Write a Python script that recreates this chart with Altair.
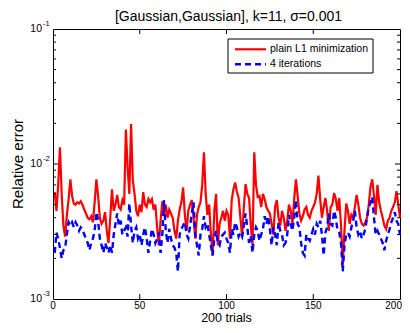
import altair as alt
import pandas as pd

# ---------------- data ----------------
trials = list(range(1, 201))

plain_l1 = [
    0.0062, 0.0045, 0.0070, 0.0133, 0.0060, 0.0035, 0.0029, 0.0042, 0.0055, 0.0077,
    0.0058, 0.0051, 0.0050, 0.0052, 0.0051, 0.0053, 0.0050, 0.0046, 0.0043, 0.0040,
    0.0039, 0.0041, 0.0037, 0.0052, 0.0077, 0.0058, 0.0040, 0.0036, 0.0038, 0.0044,
    0.0032, 0.0026, 0.0040, 0.0065, 0.0045, 0.0050, 0.0059, 0.0048, 0.0046, 0.0054,
    0.0050, 0.0180, 0.0094, 0.0060, 0.0198, 0.0075, 0.0060, 0.0045, 0.0041, 0.0050,
    0.0044, 0.0062, 0.0050, 0.0048, 0.0055, 0.0052, 0.0055, 0.0046, 0.0050, 0.0034,
    0.0025, 0.0038, 0.0053, 0.0042, 0.0050, 0.0040, 0.0046, 0.0043, 0.0040, 0.0032,
    0.0028, 0.0038, 0.0046, 0.0052, 0.0067, 0.0042, 0.0032, 0.0045, 0.0050, 0.0054,
    0.0040, 0.0028, 0.0042, 0.0048, 0.0052, 0.0070, 0.0122, 0.0060, 0.0042, 0.0050,
    0.0030, 0.0021, 0.0045, 0.0060, 0.0025, 0.0036, 0.0040, 0.0045, 0.0038, 0.0045,
    0.0042, 0.0028, 0.0054, 0.0065, 0.0073, 0.0062, 0.0056, 0.0040, 0.0029, 0.0048,
    0.0071, 0.0060, 0.0056, 0.0035, 0.0025, 0.0122, 0.0070, 0.0057, 0.0058, 0.0048,
    0.0060, 0.0055, 0.0048, 0.0045, 0.0043, 0.0036, 0.0030, 0.0048, 0.0054, 0.0040,
    0.0035, 0.0045, 0.0040, 0.0032, 0.0038, 0.0050, 0.0045, 0.0036, 0.0055, 0.0077,
    0.0058, 0.0043, 0.0038, 0.0041, 0.0046, 0.0048, 0.0042, 0.0040, 0.0045, 0.0048,
    0.0052, 0.0060, 0.0082, 0.0055, 0.0040, 0.0048, 0.0056, 0.0045, 0.0032, 0.0048,
    0.0050, 0.0061, 0.0055, 0.0045, 0.0056, 0.0035, 0.0018, 0.0032, 0.0051, 0.0045,
    0.0036, 0.0042, 0.0040, 0.0048, 0.0059, 0.0050, 0.0040, 0.0036, 0.0035, 0.0037,
    0.0040, 0.0050, 0.0068, 0.0077, 0.0058, 0.0042, 0.0070, 0.0052, 0.0045, 0.0040,
    0.0035, 0.0033, 0.0038, 0.0040, 0.0045, 0.0048, 0.0052, 0.0063, 0.0050, 0.0040,
]

iter4 = [
    0.0022, 0.0031, 0.0028, 0.0024, 0.0020, 0.0023, 0.0024, 0.0030, 0.0037, 0.0035,
    0.0037, 0.0034, 0.0037, 0.0035, 0.0032, 0.0034, 0.0033, 0.0030, 0.0028, 0.0026,
    0.0023, 0.0026, 0.0028, 0.0032, 0.0044, 0.0038, 0.0028, 0.0025, 0.0022, 0.0026,
    0.0024, 0.0022, 0.0025, 0.0022, 0.0030, 0.0036, 0.0043, 0.0035, 0.0038, 0.0030,
    0.0032, 0.0034, 0.0029, 0.0051, 0.0035, 0.0026, 0.0032, 0.0034, 0.0028, 0.0030,
    0.0025, 0.0030, 0.0034, 0.0028, 0.0022, 0.0027, 0.0033, 0.0030, 0.0026, 0.0028,
    0.0031, 0.0022, 0.0030, 0.0054, 0.0032, 0.0026, 0.0033, 0.0028, 0.0025, 0.0024,
    0.0022, 0.0016, 0.0030, 0.0033, 0.0035, 0.0037, 0.0030, 0.0028, 0.0035, 0.0043,
    0.0052, 0.0030, 0.0025, 0.0021, 0.0030, 0.0033, 0.0041, 0.0034, 0.0036, 0.0030,
    0.0025, 0.0021, 0.0028, 0.0032, 0.0026, 0.0025, 0.0029, 0.0030, 0.0031, 0.0028,
    0.0026, 0.0022, 0.0033, 0.0030, 0.0037, 0.0034, 0.0029, 0.0031, 0.0029, 0.0035,
    0.0043, 0.0034, 0.0026, 0.0029, 0.0022, 0.0030, 0.0034, 0.0032, 0.0027, 0.0030,
    0.0033, 0.0041, 0.0036, 0.0041, 0.0033, 0.0025, 0.0034, 0.0030, 0.0025, 0.0037,
    0.0032, 0.0030, 0.0025, 0.0026, 0.0030, 0.0042, 0.0036, 0.0032, 0.0040, 0.0054,
    0.0036, 0.0034, 0.0026, 0.0022, 0.0021, 0.0030, 0.0028, 0.0027, 0.0030, 0.0033,
    0.0030, 0.0036, 0.0034, 0.0038, 0.0030, 0.0021, 0.0031, 0.0034, 0.0043, 0.0036,
    0.0035, 0.0045, 0.0040, 0.0032, 0.0031, 0.0026, 0.0016, 0.0025, 0.0030, 0.0031,
    0.0029, 0.0034, 0.0038, 0.0045, 0.0034, 0.0030, 0.0032, 0.0028, 0.0030, 0.0033,
    0.0040, 0.0048, 0.0052, 0.0057, 0.0040, 0.0030, 0.0032, 0.0030, 0.0028, 0.0026,
    0.0023, 0.0027, 0.0030, 0.0033, 0.0037, 0.0040, 0.0044, 0.0038, 0.0036, 0.0030,
]

series_names = ["plain L1 minimization", "4 iterations"]
x_labels_main = [0, 50, 100, 150]
x_label_last = [200]
x_inner_ticks = [50, 100, 150]
y_major = [0.001, 0.01, 0.1]
y_major_inner = [0.01]
y_minor = [k * 10.0 ** e for e in (-3, -2) for k in range(2, 10)]
y_base = ["10", "10", "10"]
y_exp = ["-3", "-2", "-1"]

title_text = "[Gaussian,Gaussian], k=11, \u03c3=0.001"
x_title = "200 trials"
y_title = "Relative error"

# ---------------- chart ----------------
W, H = 347, 270
FONT = "Liberation Sans"

xs = alt.Scale(domain=[0, 200], nice=False, zero=False)
ys = alt.Scale(type="log", domain=[0.001, 0.1], nice=False)

df_red = pd.DataFrame({"trial": trials, "v": plain_l1})
df_blue = pd.DataFrame({"trial": trials, "v": iter4})

red = alt.Chart(df_red).mark_line(color="#ff0000", strokeWidth=2.2).encode(
    x=alt.X("trial:Q", scale=xs, axis=None),
    y=alt.Y("v:Q", scale=ys, axis=None),
)
blue = alt.Chart(df_blue).mark_line(color="#0000ff", strokeWidth=2.4,
                                    strokeDash=[6, 4]).encode(
    x=alt.X("trial:Q", scale=xs),
    y=alt.Y("v:Q", scale=ys),
)

# inward ticks (MATLAB style box)
xt = pd.DataFrame({"t": x_inner_ticks})
xtick_b = alt.Chart(xt).mark_rule(color="black", strokeWidth=1).encode(
    x=alt.X("t:Q", scale=xs), y=alt.value(H), y2=alt.value(H - 5))
xtick_t = alt.Chart(xt).mark_rule(color="black", strokeWidth=1).encode(
    x=alt.X("t:Q", scale=xs), y=alt.value(0), y2=alt.value(5))

ymaj = pd.DataFrame({"t": y_major_inner})
ymin = pd.DataFrame({"t": y_minor})
ytick_l = alt.Chart(ymaj).mark_rule(color="black", strokeWidth=1).encode(
    y=alt.Y("t:Q", scale=ys), x=alt.value(0), x2=alt.value(5))
ytick_r = alt.Chart(ymaj).mark_rule(color="black", strokeWidth=1).encode(
    y=alt.Y("t:Q", scale=ys), x=alt.value(W), x2=alt.value(W - 5))
yminor_l = alt.Chart(ymin).mark_rule(color="black", strokeWidth=1).encode(
    y=alt.Y("t:Q", scale=ys), x=alt.value(0), x2=alt.value(3))
yminor_r = alt.Chart(ymin).mark_rule(color="black", strokeWidth=1).encode(
    y=alt.Y("t:Q", scale=ys), x=alt.value(W), x2=alt.value(W - 3))

# x tick labels
xl_main = alt.Chart(pd.DataFrame({"t": x_labels_main})).mark_text(
    align="center", baseline="alphabetic", fontSize=10, font=FONT, color="black").encode(
    x=alt.X("t:Q", scale=xs), y=alt.value(H + 9.5), text="t:Q")
xl_last = alt.Chart(pd.DataFrame({"t": x_label_last})).mark_text(
    align="right", baseline="alphabetic", fontSize=10, font=FONT, color="black",
    dx=2).encode(
    x=alt.X("t:Q", scale=xs), y=alt.value(H + 9.5), text="t:Q")

# y tick labels 10^k
ylab = pd.DataFrame({"t": y_major, "base": y_base, "exp": y_exp})
ylab_base = alt.Chart(ylab).mark_text(align="right", baseline="middle",
                                      fontSize=10.5, font=FONT, color="black").encode(
    y=alt.Y("t:Q", scale=ys), x=alt.value(-11), text="base:N")
ylab_exp = alt.Chart(ylab).mark_text(align="left", baseline="middle", dy=-5,
                                     fontSize=7.5, font=FONT, color="black").encode(
    y=alt.Y("t:Q", scale=ys), x=alt.value(-10), text="exp:N")

# titles
title = alt.Chart(pd.DataFrame({"s": [title_text]})).mark_text(
    align="center", baseline="middle", fontSize=14, font=FONT, color="black").encode(
    x=alt.value(175.5), y=alt.value(-12.5), text="s:N")
xtitle = alt.Chart(pd.DataFrame({"s": [x_title]})).mark_text(
    align="center", baseline="alphabetic", fontSize=12.5, font=FONT,
    color="black").encode(
    x=alt.value(173.5), y=alt.value(293), text="s:N")
ytitle = alt.Chart(pd.DataFrame({"s": [y_title]})).mark_text(
    align="center", baseline="middle", fontSize=15, font=FONT, color="black",
    angle=270).encode(
    x=alt.value(-35), y=alt.value(135), text="s:N")

# legend
leg_box = alt.Chart(pd.DataFrame({"a": [0]})).mark_rect(
    fill="white", stroke="black", strokeWidth=1).encode(
    x=alt.value(175), x2=alt.value(320), y=alt.value(10), y2=alt.value(44))
leg_red = alt.Chart(pd.DataFrame({"a": [0]})).mark_rule(
    color="#ff0000", strokeWidth=2.2).encode(
    x=alt.value(182), x2=alt.value(213), y=alt.value(20.3))
leg_blue = alt.Chart(pd.DataFrame({"a": [0]})).mark_rule(
    color="#0000ff", strokeWidth=2.4, strokeDash=[6, 4]).encode(
    x=alt.value(182), x2=alt.value(213), y=alt.value(35.3))
leg_text1 = alt.Chart(pd.DataFrame({"s": [series_names[0]]})).mark_text(
    align="left", baseline="middle", fontSize=10.5, font=FONT, color="black").encode(
    x=alt.value(217), y=alt.value(20.3), text="s:N")
leg_text2 = alt.Chart(pd.DataFrame({"s": [series_names[1]]})).mark_text(
    align="left", baseline="middle", fontSize=10.5, font=FONT, color="black").encode(
    x=alt.value(217), y=alt.value(35.3), text="s:N")

chart = alt.layer(
    red, blue,
    xtick_b, xtick_t, ytick_l, ytick_r, yminor_l, yminor_r,
    xl_main, xl_last, ylab_base, ylab_exp, title, xtitle, ytitle,
    leg_box, leg_red, leg_blue, leg_text1, leg_text2,
).properties(
    width=W, height=H,
    autosize=alt.AutoSizeParams(type="none"),
    padding={"left": 45, "top": 21, "right": 2, "bottom": 26},
).configure_view(stroke="black", strokeWidth=1)

chart.save("out.html", embed_options={"renderer": "svg", "actions": False})
